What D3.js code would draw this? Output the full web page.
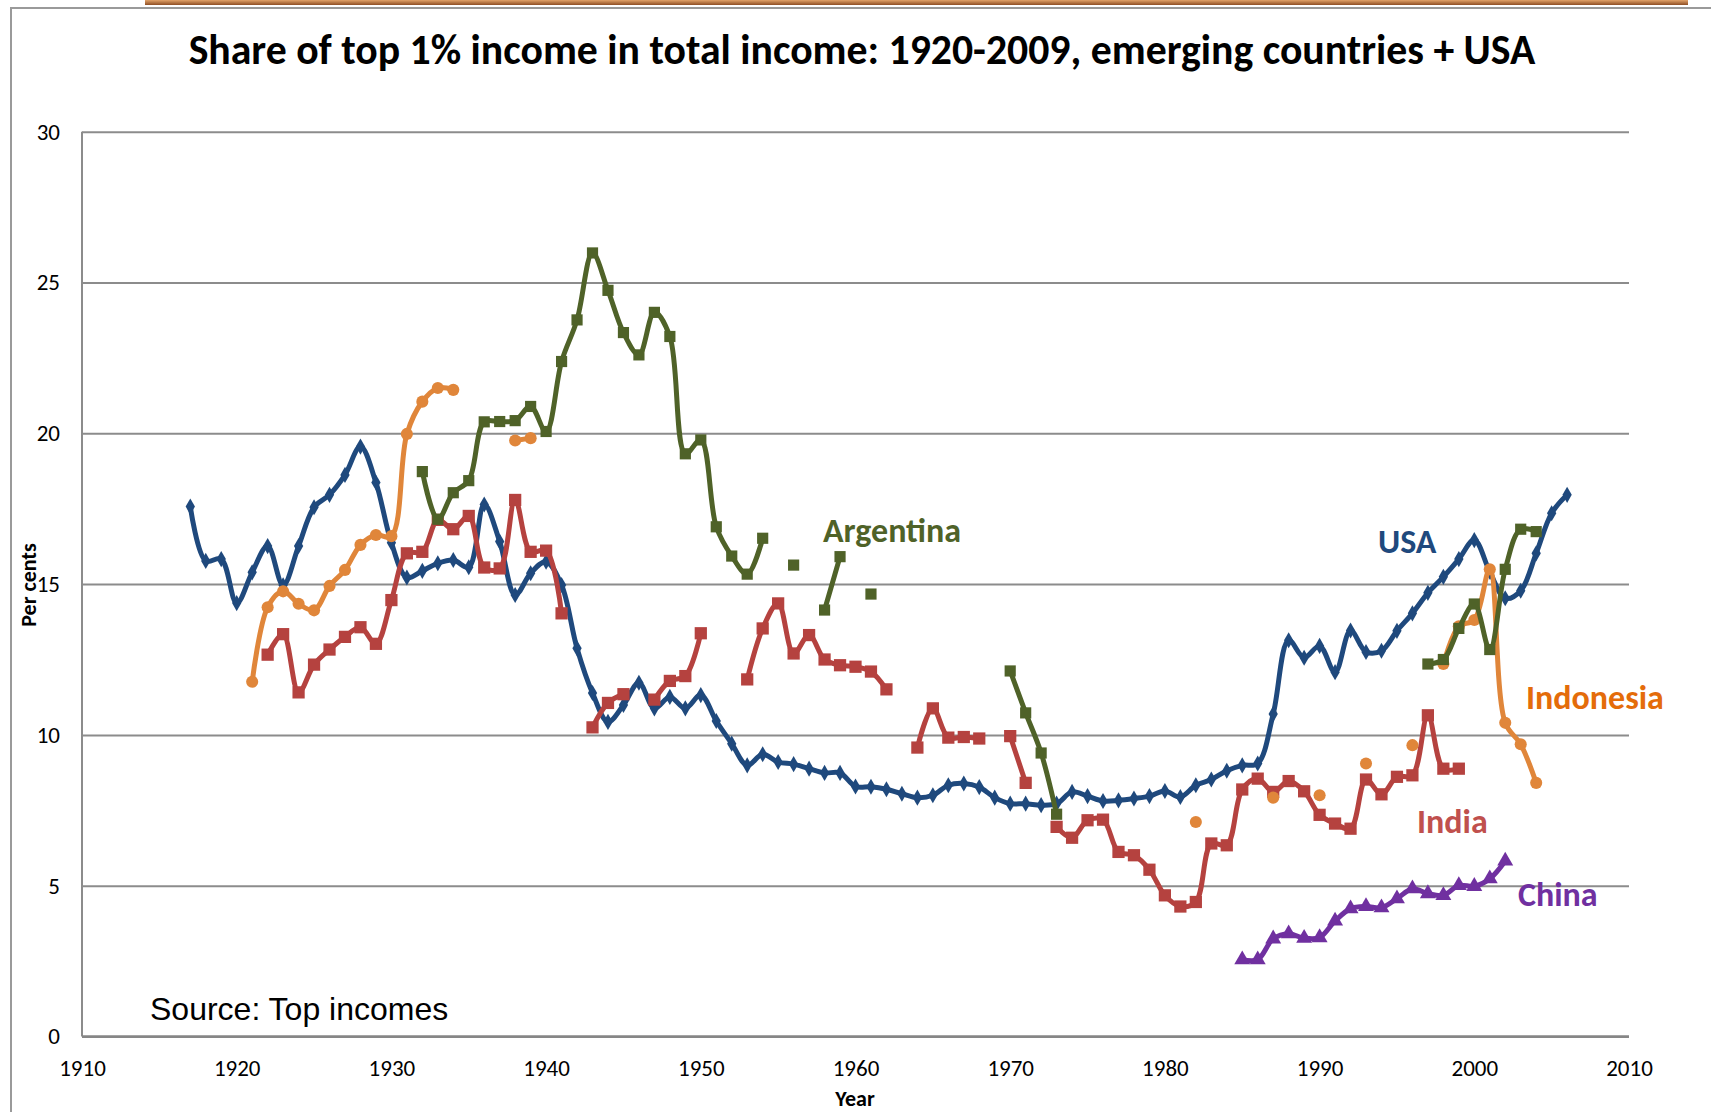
<!DOCTYPE html>
<html>
  <head>
    <meta charset="UTF-8" />
    <title>Share of top 1% income in total income: 1920-2009</title>
    <script src="https://d3js.org/d3.v7.min.js"></script>
    <style>
      body {
        margin: 0;
        background: #fff;
      }
      svg {
        display: block;
      }
      .tick text {
        font-family: Calibri, Carlito, "Open Sans", sans-serif;
        font-size: 23px;
        fill: #000;
      }
    </style>
  </head>
  <body>
    <div id="chart"></div>
    <script>
      // Valores (ano, percentual); null = lacuna na série
      var usa = [
        [1917, 17.57], [1918, 15.77], [1919, 15.83], [1920, 14.37], [1921, 15.39],
        [1922, 16.26], [1923, 14.96], [1924, 16.26], [1925, 17.55], [1926, 17.96],
        [1927, 18.62], [1928, 19.56], [1929, 18.37], [1930, 16.37], [1931, 15.22],
        [1932, 15.44], [1933, 15.69], [1934, 15.8], [1935, 15.56], [1936, 17.64],
        [1937, 16.41], [1938, 14.64], [1939, 15.36], [1940, 15.74], [1941, 14.97],
        [1942, 12.87], [1943, 11.39], [1944, 10.43], [1945, 10.99], [1946, 11.73],
        [1947, 10.88], [1948, 11.26], [1949, 10.88], [1950, 11.32], [1951, 10.46],
        [1952, 9.71], [1953, 8.99], [1954, 9.36], [1955, 9.1], [1956, 9.03],
        [1957, 8.88], [1958, 8.74], [1959, 8.74], [1960, 8.29], [1961, 8.28],
        [1962, 8.2], [1963, 8.05], [1964, 7.92], [1965, 8.0], [1966, 8.33],
        [1967, 8.39], [1968, 8.27], [1969, 7.92], [1970, 7.72], [1971, 7.72],
        [1972, 7.67], [1973, 7.72], [1974, 8.11], [1975, 7.97], [1976, 7.81],
        [1977, 7.83], [1978, 7.89], [1979, 7.97], [1980, 8.14], [1981, 7.94],
        [1982, 8.33], [1983, 8.52], [1984, 8.81], [1985, 8.99], [1986, 9.05],
        [1987, 10.69], [1988, 13.14], [1989, 12.56], [1990, 12.95], [1991, 12.08],
        [1992, 13.46], [1993, 12.75], [1994, 12.79], [1995, 13.45], [1996, 14.03],
        [1997, 14.71], [1998, 15.24], [1999, 15.83], [2000, 16.46], [2001, 15.41],
        [2002, 14.53], [2003, 14.78], [2004, 16.02], [2005, 17.35], [2006, 17.96]
      ];

      var india = [
        [1922, 12.66], [1923, 13.34], [1924, 11.41], [1925, 12.33], [1926, 12.83],
        [1927, 13.25], [1928, 13.57], [1929, 13.02], [1930, 14.47], [1931, 16.02],
        [1932, 16.07], [1933, 17.13], [1934, 16.82], [1935, 17.26], [1936, 15.55],
        [1937, 15.52], [1938, 17.79], [1939, 16.07], [1940, 16.11], [1941, 14.03],
        [1942, null], [1943, 10.25], [1944, 11.06], [1945, 11.35], [1946, null],
        [1947, 11.17], [1948, 11.79], [1949, 11.95], [1950, 13.37], [1951, null],
        [1953, 11.84], [1954, 13.53], [1955, 14.36], [1956, 12.7], [1957, 13.31],
        [1958, 12.5], [1959, 12.31], [1960, 12.26], [1961, 12.1], [1962, 11.51],
        [1963, null], [1964, 9.58], [1965, 10.88], [1966, 9.91], [1967, 9.93],
        [1968, 9.88], [1969, null], [1970, 9.96], [1971, 8.41], [1972, null],
        [1973, 6.95], [1974, 6.59], [1975, 7.17], [1976, 7.19], [1977, 6.12],
        [1978, 6.01], [1979, 5.53], [1980, 4.68], [1981, 4.31], [1982, 4.46],
        [1983, 6.4], [1984, 6.34], [1985, 8.19], [1986, 8.55], [1987, 8.11],
        [1988, 8.47], [1989, 8.13], [1990, 7.35], [1991, 7.06], [1992, 6.89],
        [1993, 8.52], [1994, 8.03], [1995, 8.61], [1996, 8.66], [1997, 10.65],
        [1998, 8.88], [1999, 8.88]
      ];

      var indonesia = [
        [1921, 11.76], [1922, 14.23], [1923, 14.76], [1924, 14.35], [1925, 14.13],
        [1926, 14.94], [1927, 15.47], [1928, 16.3], [1929, 16.63], [1930, 16.59],
        [1931, 19.98], [1932, 21.05], [1933, 21.5], [1934, 21.44], [1935, null],
        [1938, 19.76], [1939, 19.84], [1940, null],
        [1982, 7.11], [1983, null], [1987, 7.92], [1988, null], [1990, 8.0],
        [1991, null], [1993, 9.05], [1994, null], [1996, 9.66], [1997, null],
        [1998, 12.35], [1999, 13.6], [2000, 13.81], [2001, 15.49], [2002, 10.4],
        [2003, 9.69], [2004, 8.41]
      ];

      var argentina = [
        [1932, 18.73], [1933, 17.15], [1934, 18.03], [1935, 18.43], [1936, 20.38],
        [1937, 20.39], [1938, 20.42], [1939, 20.89], [1940, 20.06], [1941, 22.38],
        [1942, 23.76], [1943, 25.98], [1944, 24.74], [1945, 23.34], [1946, 22.6],
        [1947, 24.01], [1948, 23.21], [1949, 19.32], [1950, 19.78], [1951, 16.9],
        [1952, 15.93], [1953, 15.33], [1954, 16.52], [1955, null], [1956, 15.63],
        [1957, null], [1958, 14.14], [1959, 15.91], [1960, null], [1961, 14.67],
        [1962, null], [1970, 12.12], [1971, 10.73], [1972, 9.4], [1973, 7.37],
        [1974, null], [1997, 12.35], [1998, 12.5], [1999, 13.53], [2000, 14.34],
        [2001, 12.83], [2002, 15.49], [2003, 16.82], [2004, 16.74]
      ];

      var china = [
        [1985, 2.55], [1986, 2.55], [1987, 3.24], [1988, 3.41], [1989, 3.26],
        [1990, 3.28], [1991, 3.83], [1992, 4.24], [1993, 4.31], [1994, 4.27],
        [1995, 4.57], [1996, 4.9], [1997, 4.74], [1998, 4.68], [1999, 5.01],
        [2000, 4.98], [2001, 5.23], [2002, 5.82]
      ];

      var xTicks = [1910, 1920, 1930, 1940, 1950, 1960, 1970, 1980, 1990, 2000, 2010];
      var yTicks = [0, 5, 10, 15, 20, 25, 30];

      // Ordem de desenho e aparência de cada série
      var series = [
        { name: "USA", data: usa, color: "#1F497D", symbol: d3.symbolDiamond, size: 75 },
        { name: "India", data: india, color: "#B5423F", symbol: d3.symbolSquare, size: 150 },
        { name: "Indonesia", data: indonesia, color: "#E0863A", symbol: d3.symbolCircle, size: 115 },
        { name: "Argentina", data: argentina, color: "#4F6228", symbol: d3.symbolSquare, size: 125 },
        { name: "China", data: china, color: "#7030A0", symbol: d3.symbolTriangle, size: 110 }
      ];

      // Rótulos das séries dentro do gráfico
      var labels = [
        { text: "Argentina", x: 823, y: 542, color: "#4F6228" },
        { text: "USA", x: 1378, y: 553, color: "#1F497D" },
        { text: "Indonesia", x: 1526, y: 709, color: "#E46C0A" },
        { text: "India", x: 1417, y: 833, color: "#C0504D" },
        { text: "China", x: 1518, y: 906, color: "#7030A0" }
      ];

      var W = 1711,
        H = 1112;
      var plotLeft = 82,
        plotRight = 1629,
        plotTop = 131.7,
        plotBottom = 1036.5;

      var svg = d3
        .select("#chart")
        .append("svg")
        .attr("width", W)
        .attr("height", H);

      // Moldura do slide
      var grad = svg
        .append("defs")
        .append("linearGradient")
        .attr("id", "bar")
        .attr("x1", 0)
        .attr("y1", 0)
        .attr("x2", 0)
        .attr("y2", 1);
      grad.append("stop").attr("offset", "0%").attr("stop-color", "#E2A36A");
      grad.append("stop").attr("offset", "100%").attr("stop-color", "#8E4E24");
      svg
        .append("rect")
        .attr("x", 145)
        .attr("y", 0)
        .attr("width", 1543)
        .attr("height", 5)
        .attr("fill", "url(#bar)");
      svg
        .append("path")
        .attr("d", "M11,1112V8H1711")
        .attr("fill", "none")
        .attr("stroke", "#9a9a9a")
        .attr("stroke-width", 2);

      // Escalas
      var x = d3.scaleLinear().domain([1910, 2010]).range([plotLeft, plotRight]);
      var y = d3.scaleLinear().domain([0, 30]).range([plotBottom, plotTop]);

      // Linhas de grade
      var grid = svg
        .append("g")
        .attr("transform", "translate(" + plotLeft + ",0)")
        .call(d3.axisLeft(y).tickValues(yTicks).tickSize(-(plotRight - plotLeft)).tickFormat(""));
      grid.select(".domain").remove();
      grid.selectAll("line").attr("stroke", "#8c8c8c").attr("stroke-width", 2);

      // Eixo y (rótulos)
      var yAxis = svg
        .append("g")
        .attr("transform", "translate(" + plotLeft + ",0)")
        .call(d3.axisLeft(y).tickValues(yTicks).tickSize(0).tickPadding(22));
      yAxis.select(".domain").remove();

      // Eixo x (rótulos)
      var xAxis = svg
        .append("g")
        .attr("transform", "translate(0," + plotBottom + ")")
        .call(d3.axisBottom(x).tickValues(xTicks).tickSize(0).tickPadding(23).tickFormat(d3.format("d")));
      xAxis.select(".domain").remove();

      // Linhas dos eixos
      svg
        .append("line")
        .attr("x1", plotLeft)
        .attr("x2", plotLeft)
        .attr("y1", plotTop)
        .attr("y2", plotBottom)
        .attr("stroke", "#8c8c8c")
        .attr("stroke-width", 2);
      svg
        .append("line")
        .attr("x1", plotLeft)
        .attr("x2", plotRight)
        .attr("y1", plotBottom)
        .attr("y2", plotBottom)
        .attr("stroke", "#868686")
        .attr("stroke-width", 2.5);

      // Séries
      var line = d3
        .line()
        .defined((d) => d[1] !== null)
        .x((d) => x(d[0]))
        .y((d) => y(d[1]))
        .curve(d3.curveCatmullRom.alpha(0.5));

      series.forEach((s) => {
        var g = svg.append("g");
        g.append("path")
          .datum(s.data)
          .attr("d", line)
          .attr("fill", "none")
          .attr("stroke", s.color)
          .attr("stroke-width", 5)
          .attr("stroke-linejoin", "round");
        g.selectAll("path.mark")
          .data(s.data.filter((d) => d[1] !== null))
          .enter()
          .append("path")
          .attr("class", "mark")
          .attr("d", d3.symbol().type(s.symbol).size(s.size))
          .attr("transform", (d) => "translate(" + x(d[0]) + "," + y(d[1]) + ")")
          .attr("fill", s.color);
      });

      // Rótulos das séries
      svg
        .selectAll(".label")
        .data(labels)
        .enter()
        .append("text")
        .attr("class", "label")
        .attr("x", (d) => d.x)
        .attr("y", (d) => d.y)
        .attr("fill", (d) => d.color)
        .style("font-family", "Calibri, Carlito, 'Open Sans', sans-serif")
        .style("font-weight", "bold")
        .style("font-size", "34px")
        .text((d) => d.text);

      // Título
      var title = svg
        .append("text")
        .attr("x", 862)
        .attr("y", 64)
        .attr("text-anchor", "middle")
        .style("font-family", "Calibri, Carlito, 'Open Sans', sans-serif")
        .style("font-weight", "bold")
        .style("font-size", "34px")
        .text("Share of top 1% income in total income: 1920-2009, emerging countries + USA");
      var tw = title.node().getComputedTextLength();
      title.style("font-size", (34 * 1347) / tw + "px");

      // Títulos dos eixos
      svg
        .append("text")
        .attr("x", 855)
        .attr("y", 1106)
        .attr("text-anchor", "middle")
        .style("font-family", "Calibri, Carlito, 'Open Sans', sans-serif")
        .style("font-weight", "bold")
        .style("font-size", "22px")
        .text("Year");

      svg
        .append("text")
        .attr("transform", "translate(36,585) rotate(-90)")
        .attr("text-anchor", "middle")
        .style("font-family", "Calibri, Carlito, 'Open Sans', sans-serif")
        .style("font-weight", "bold")
        .style("font-size", "22px")
        .text("Per cents");

      // Fonte
      svg
        .append("text")
        .attr("x", 150)
        .attr("y", 1020)
        .style("font-family", "Arial, 'Liberation Sans', sans-serif")
        .style("font-size", "32px")
        .attr("fill", "#000")
        .text("Source: Top incomes");
    </script>
  </body>
</html>
